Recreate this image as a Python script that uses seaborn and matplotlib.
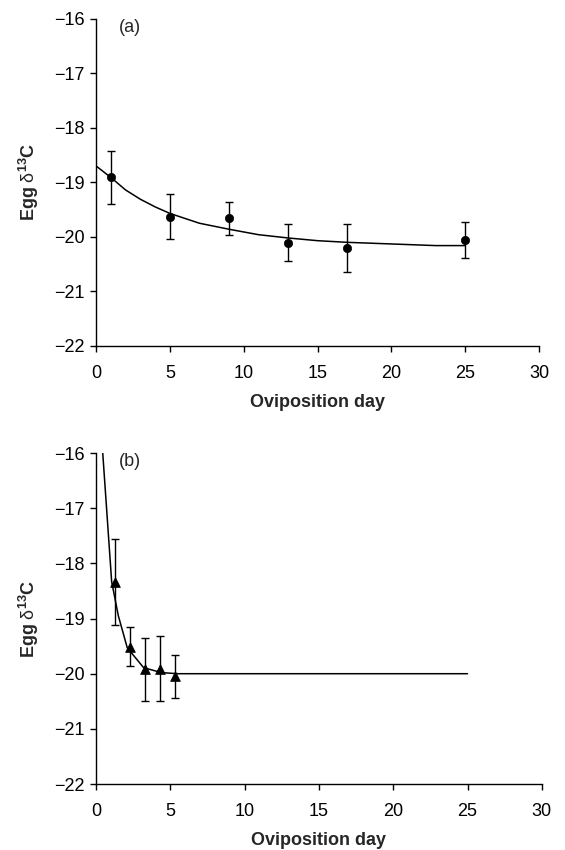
import numpy as np
import pandas as pd
import seaborn as sns
import matplotlib.pyplot as plt

# Panel (a) data: mean egg d13C by oviposition day, with error bars
days_a = [1, 5, 9, 13, 17, 25]
mean_a = [-18.91, -19.63, -19.66, -20.11, -20.21, -20.06]
err_a = [0.49, 0.41, 0.30, 0.34, 0.44, 0.33]

# Panel (a) fitted curve
fit_x_a = [0, 1, 2, 3, 4, 5, 7, 9, 11, 13, 15, 17, 19, 21, 23, 25]
fit_y_a = [-18.70, -18.91, -19.14, -19.31, -19.45, -19.57, -19.75, -19.86,
           -19.96, -20.02, -20.07, -20.10, -20.12, -20.14, -20.16, -20.16]

# Panel (b) data
days_b = [1.3, 2.3, 3.3, 4.3, 5.3]
mean_b = [-18.34, -19.51, -19.92, -19.91, -20.05]
err_b = [0.78, 0.35, 0.57, 0.59, 0.39]

# Panel (b) fitted curve
fit_x_b = [0.45, 1.05, 1.5, 2.1, 3.2, 4.4, 5.5, 25]
fit_y_b = [-16.0, -18.33, -18.95, -19.53, -19.89, -19.98, -20.0, -20.0]

x_ticks = [0, 5, 10, 15, 20, 25, 30]
y_ticks = [-22, -21, -20, -19, -18, -17, -16]

sns.set_style("ticks")
plt.rcParams['font.family'] = ['Liberation Sans', 'DejaVu Sans']
plt.rcParams['mathtext.fontset'] = 'custom'
plt.rcParams['mathtext.rm'] = 'Liberation Sans'
plt.rcParams['mathtext.bf'] = 'Liberation Sans:bold'
plt.rcParams['axes.unicode_minus'] = True

fig = plt.figure(figsize=(5.65, 8.5), dpi=100)
ax_a = fig.add_axes([0.170, 0.593, 0.784, 0.385])
ax_b = fig.add_axes([0.170, 0.0776, 0.789, 0.3894])

panels = [
    (ax_a, days_a, mean_a, err_a, fit_x_a, fit_y_a, "o", 6, "(a)"),
    (ax_b, days_b, mean_b, err_b, fit_x_b, fit_y_b, "^", 7, "(b)"),
]

for ax, dx, my, ey, fx, fy, mk, ms, tag in panels:
    fit = pd.DataFrame({"day": fx, "d13c": fy})
    pts = pd.DataFrame({"day": dx, "d13c": my})
    sns.lineplot(data=fit, x="day", y="d13c", ax=ax, color="black",
                 linewidth=1.1, estimator=None, sort=False)
    ax.errorbar(dx, my, yerr=ey, fmt="none", ecolor="black",
                elinewidth=1.0, capsize=3, capthick=1.0)
    sns.scatterplot(data=pts, x="day", y="d13c", ax=ax, marker=mk,
                    s=ms ** 2, color="black", edgecolor="black", zorder=5)

    ax.set_xlim(0, 30)
    ax.set_ylim(-22, -16)
    ax.set_xticks(x_ticks)
    ax.set_yticks(y_ticks)
    ax.set_yticklabels(["\u2212" + str(abs(v)) for v in y_ticks])
    ax.tick_params(axis="both", direction="out", length=4.3, width=1,
                   labelsize=13, colors="black")
    ax.tick_params(axis="x", pad=9.5)
    ax.tick_params(axis="y", pad=4)
    for s in ["left", "bottom"]:
        ax.spines[s].set_color("black")
        ax.spines[s].set_linewidth(1)
    sns.despine(ax=ax)
    ax.set_xlabel("Oviposition day", fontsize=13, fontweight="bold",
                  labelpad=8.5)
    ax.set_ylabel(r"Egg $\mathrm{δ}^{\mathbf{13}}$C", fontsize=13,
                  fontweight="bold", labelpad=9.5)
    ax.text(0.052, 1.0, tag, transform=ax.transAxes, fontsize=13,
            va="top", ha="left")

fig.savefig("out.png", dpi=100)
